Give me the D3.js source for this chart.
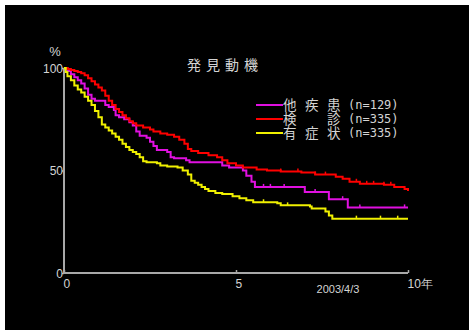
<!DOCTYPE html>
<html><head><meta charset="utf-8">
<script src="https://cdn.jsdelivr.net/npm/d3@7"></script>
<style>html,body{margin:0;padding:0;background:#fff;}svg{display:block;}</style>
</head><body>
<svg id="c" width="474" height="333"></svg>
<script>
const title = "発見動機";
const seriesNames = ["他疾患", "検　診", "有症状"];
const seriesN = ["(n=129)", "(n=335)", "(n=335)"];
const seriesColors = ["#e010e0", "#ff0000", "#f0f000"];
const yTicks = [0, 50, 100];
const xTicks = [0, 5, 10];
const xTickLabels = ["0", "5", "10年"];
const dateNote = "2003/4/3";

// Kaplan-Meier step points [year, %]
const otherDisease = [[0,100],[0.1,98.5],[0.2,97],[0.3,95.5],[0.4,94],[0.5,92.5],[0.6,90],[0.7,87],[0.8,85],[0.9,84],[1.2,82],[1.3,81],[1.45,79.5],[1.5,77],[1.6,76],[1.75,75],[1.9,73.5],[2.0,72],[2.1,69],[2.2,67],[2.4,66],[2.5,64],[2.6,62],[2.7,60],[3.0,59],[3.1,56.5],[3.2,56],[3.55,55],[3.65,54],[4.5,54],[4.6,52.5],[4.8,51.5],[5.2,50],[5.3,47.5],[5.45,44.5],[5.55,42],[7.0,39.5],[7.7,36],[8.25,32],[10,32]];
const screening = [[0,100],[0.1,99.5],[0.2,99],[0.3,98.5],[0.4,98],[0.5,97.5],[0.6,96.5],[0.7,95],[0.8,93.5],[0.9,92],[1.0,90.5],[1.1,89],[1.2,86.5],[1.3,84],[1.4,82],[1.5,80],[1.6,78.5],[1.7,77],[1.8,75.5],[1.9,74],[2.0,73],[2.1,72],[2.3,71],[2.5,70],[2.6,69],[2.8,68],[3.0,67.5],[3.2,66.5],[3.35,65],[3.5,63],[3.6,60.5],[3.7,59.5],[3.9,58.5],[4.2,57.5],[4.45,56.5],[4.6,55],[4.75,53.5],[5.0,52.5],[5.2,51.5],[5.6,50.5],[5.9,50],[6.3,49.5],[6.9,49],[7.3,48],[7.9,47],[8.1,46],[8.3,44.5],[8.6,43.5],[9.3,43],[9.6,42],[9.9,41],[10,40]];
const symptomatic = [[0,100],[0.05,98],[0.1,96],[0.2,94],[0.3,91.5],[0.4,89.5],[0.5,88],[0.6,86],[0.7,84],[0.8,82],[0.9,79],[1.0,76],[1.1,72.5],[1.2,71],[1.3,69.5],[1.4,68],[1.5,66.5],[1.6,65],[1.7,63],[1.8,61.5],[1.9,60],[2.0,59],[2.1,58],[2.2,56.5],[2.3,54.5],[2.4,54],[2.7,53.5],[2.8,52.5],[3.0,52],[3.3,51.5],[3.45,50],[3.6,48],[3.7,45],[3.8,44],[3.9,43],[4.0,42],[4.1,41],[4.2,40],[4.4,39],[4.6,38.5],[4.9,37.5],[5.1,36.5],[5.3,35.5],[5.5,34.5],[6.2,34],[6.3,33],[7.15,32.5],[7.2,31.5],[7.6,30],[7.7,28],[7.8,26.5],[10,26.5]];
// censored observation marks (years)
const otherCensor = [5.8, 6.0, 6.4, 7.3, 8.1, 8.6, 9.9];
const screeningCensor = [6.3, 6.8, 7.3, 7.6, 8.5, 8.8, 9.0, 9.3, 9.5];
const symptomaticCensor = [5.8, 6.5, 8.5, 9.2, 9.7];

const series = [
  {data: otherDisease, censor: otherCensor},
  {data: screening, censor: screeningCensor},
  {data: symptomatic, censor: symptomaticCensor}
];

const svg = d3.select("#c");
svg.append("rect").attr("x",5).attr("y",5).attr("width",464).attr("height",325).attr("fill","#000");

const x = d3.scaleLinear().domain([0,10]).range([64,408]);
const y = d3.scaleLinear().domain([0,100]).range([273,68]);
const axisCol = "#a8a8a8", textCol = "#d4d4d4";
const font = "'Liberation Sans', Arial, sans-serif";
const jfont = "'Noto Sans CJK JP', sans-serif";

// axes
const yAxis = svg.append("g").attr("transform","translate(64,0)")
  .call(d3.axisLeft(y).tickValues(yTicks).tickSize(3).tickFormat(d3.format("d")));
const xAxis = svg.append("g").attr("transform","translate(0,273)")
  .call(d3.axisBottom(x).tickValues(xTicks).tickSize(3).tickFormat((d,i)=>xTickLabels[i]));
[yAxis, xAxis].forEach(g => {
  g.select(".domain").attr("stroke",axisCol).attr("stroke-width",2);
  g.selectAll(".tick line").attr("stroke",axisCol).attr("stroke-width",1.5);
  g.selectAll(".tick text").attr("fill",textCol).attr("font-family",font).attr("font-size",12);
});
yAxis.select(".domain").attr("d","M0,68V273");
xAxis.select(".domain").attr("d","M64,0H408");
yAxis.selectAll(".tick line").attr("x2",-2);
yAxis.selectAll(".tick text").attr("x",-1).attr("dy","0.35em");
xAxis.selectAll(".tick line").attr("y2",-3);
xAxis.selectAll(".tick text").attr("text-anchor","start").attr("x",-1).attr("y",6).attr("dy","0.71em");

svg.append("text").attr("x",55).attr("y",56).attr("text-anchor","middle")
  .attr("fill",textCol).attr("font-family",font).attr("font-size",13).text("%");

svg.append("text").attr("x",338).attr("y",293).attr("text-anchor","middle")
  .attr("fill",textCol).attr("font-family",font).attr("font-size",11).text(dateNote);

// title
svg.append("text").attr("x",225).attr("y",70).attr("text-anchor","middle")
  .attr("fill",textCol).attr("font-family",jfont).attr("font-size",14)
  .attr("letter-spacing","5px").text(title);

// curves
const line = d3.line().x(d=>x(d[0])).y(d=>y(d[1])).curve(d3.curveStepAfter);
function valueAt(data, t){ let v = data[0][1]; for (const d of data){ if (d[0] <= t) v = d[1]; } return v; }
series.forEach((s,i) => {
  svg.append("path").attr("d", line(s.data)).attr("fill","none")
    .attr("stroke", seriesColors[i]).attr("stroke-width",2);
  svg.append("g").selectAll("line").data(s.censor).join("line")
    .attr("x1", d=>x(d)).attr("x2", d=>x(d))
    .attr("y1", d=>y(valueAt(s.data,d))).attr("y2", d=>y(valueAt(s.data,d))-3)
    .attr("stroke", seriesColors[i]).attr("stroke-width",1.5);
});

// legend
const legY = [105, 119, 133];
seriesNames.forEach((name,i) => {
  svg.append("line").attr("x1",256).attr("x2",283).attr("y1",legY[i]).attr("y2",legY[i])
    .attr("stroke",seriesColors[i]).attr("stroke-width",2);
  Array.from(name).forEach((ch,j) => {
    if (ch === "　") return;
    svg.append("text").attr("x",283 + j*22).attr("y",legY[i]+5)
      .attr("fill",textCol).attr("font-family",jfont).attr("font-size",13.5).text(ch);
  });
  svg.append("text").attr("x",348).attr("y",legY[i]+4)
    .attr("fill",textCol).attr("font-family","'DejaVu Sans Mono', monospace").attr("font-size",12)
    .text(seriesN[i]);
});
</script>
</body></html>
